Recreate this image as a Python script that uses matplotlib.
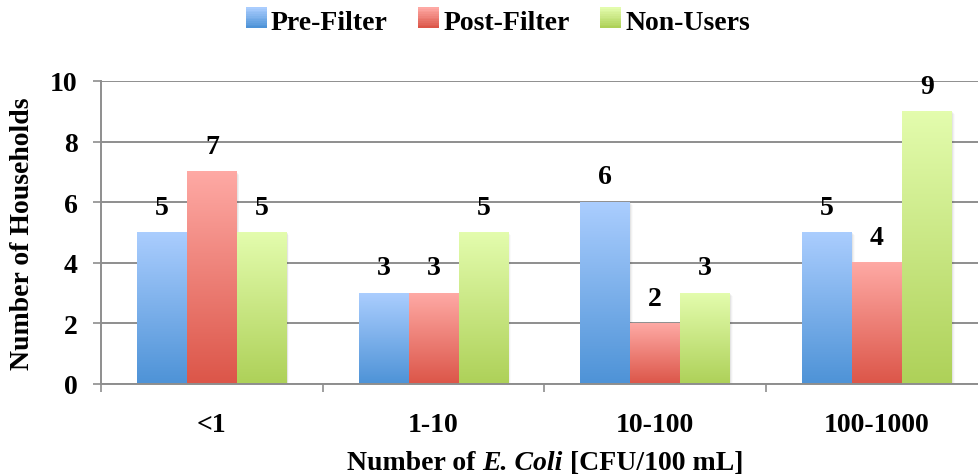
import numpy as np
import matplotlib
matplotlib.use("Agg")
import matplotlib.pyplot as plt
from matplotlib.patches import Rectangle
from matplotlib.legend_handler import HandlerBase
from matplotlib.colors import to_rgb

categories = ["<1", "1-10", "10-100", "100-1000"]
series_names = ["Pre-Filter", "Post-Filter", "Non-Users"]
pre_filter = [5, 3, 6, 5]
post_filter = [7, 3, 2, 4]
non_users = [5, 5, 3, 9]
series_values = [pre_filter, post_filter, non_users]
y_ticks = [0, 2, 4, 6, 8, 10]

top_colors = ["#AACDFE", "#FEA9A4", "#E3FCAD"]
bottom_colors = ["#4E93D7", "#DC5649", "#AED159"]

FONT = "Liberation Serif"
plt.rcParams["font.family"] = [FONT, "DejaVu Serif"]
plt.rcParams["font.weight"] = "bold"
FS = 20

fig = plt.figure(figsize=(9.79, 4.77), dpi=100)
ax = fig.add_axes([101 / 979, 1 - 385 / 477, 1 - 101 / 979, (385 - 82) / 477])

n = len(categories)
x = np.arange(n)
width = 0.225
offsets = [-width, 0, width]


def gradient(top, bottom, N=64):
    t = np.linspace(0, 1, N)[:, None]
    a = np.array(to_rgb(top))
    b = np.array(to_rgb(bottom))
    return (a * (1 - t) + b * t)[:, None, :]


for si, vals in enumerate(series_values):
    grad = gradient(top_colors[si], bottom_colors[si])
    bars = ax.bar(x + offsets[si], vals, width, color="none", edgecolor="none", zorder=3)
    for b, v in zip(bars, vals):
        x0 = b.get_x()
        # soft shadow
        for k, al in enumerate([0.05, 0.035, 0.02]):
            d = 0.004 * (k + 1)
            ax.add_patch(Rectangle((x0 + d, -0.03 * (k + 1)), width, v, facecolor="#000000",
                                   alpha=al, edgecolor="none", zorder=2.5))
        ax.imshow(grad, extent=[x0, x0 + width, 0, v], aspect="auto",
                  origin="upper", zorder=3, interpolation="bilinear")
        ax.text(x0 + width / 2, v + 0.42, str(v), ha="center", va="bottom",
                fontsize=FS, fontweight="bold", zorder=4)

ax.set_xlim(-0.5, 3.46)
ax.set_ylim(0, 10)
ax.set_yticks(y_ticks)
ax.set_yticklabels([str(t) for t in y_ticks], fontsize=FS, fontweight="bold")
ax.yaxis.grid(True, color="#8E8E8E", linewidth=1.4, zorder=1)
ax.set_axisbelow(True)

ax.set_xticks(x)
ax.set_xticklabels(categories, fontsize=FS, fontweight="bold")
ax.tick_params(axis="x", which="major", length=0, pad=20)
ax.set_xticks(np.arange(-0.5, n - 0.5, 1.0), minor=True)
ax.tick_params(axis="x", which="minor", length=6, width=1.2, color="#8E8E8E", direction="out")
ax.tick_params(axis="y", length=6, width=1.2, color="#8E8E8E", pad=11)

for s in ["top", "right"]:
    ax.spines[s].set_visible(False)
for s in ["left", "bottom"]:
    ax.spines[s].set_color("#8E8E8E")
    ax.spines[s].set_linewidth(1.4)
ax.spines["bottom"].set_zorder(5)

ax.set_ylabel("Number of Households", fontsize=FS, fontweight="bold")
ax.yaxis.set_label_coords(-(101 - 35) / 878, 0.5)


class GradHandler(HandlerBase):
    def __init__(self, top, bottom):
        super().__init__()
        self.top = top
        self.bottom = bottom

    def create_artists(self, legend, orig_handle, xdescent, ydescent, width, height, fontsize, trans):
        size = 15
        x0 = -xdescent + width - size
        y0 = -ydescent + (height - size) / 2 + 1
        N = 12
        arts = []
        a = np.array(to_rgb(self.top))
        b = np.array(to_rgb(self.bottom))
        for i in range(N):
            t = i / (N - 1)
            c = b * (1 - t) + a * t
            r = Rectangle((x0, y0 + size * i / N), size, size / N + 0.3,
                          facecolor=c, edgecolor="none", transform=trans)
            arts.append(r)
        return arts


handles = [Rectangle((0, 0), 1, 1) for _ in series_names]
hmap = {h: GradHandler(top_colors[i], bottom_colors[i]) for i, h in enumerate(handles)}
fig.legend(handles, series_names, handler_map=hmap, loc="center",
           bbox_to_anchor=(500 / 979, 1 - 23 / 477), ncol=3, frameon=False,
           prop={"family": FONT, "weight": "bold", "size": FS},
           handlelength=0.6, handletextpad=0.15, columnspacing=1.25)

# x label with bold italic part
parts = [("Number of ", "normal"), ("E. Coli", "italic"), (" [CFU/100 mL]", "normal")]
fig.canvas.draw()
renderer = fig.canvas.get_renderer()
tmp = []
widths = []
for txt, style in parts:
    t = fig.text(0, 0, txt, fontsize=FS, fontweight="bold", fontstyle=style)
    w = t.get_window_extent(renderer).width
    widths.append(w)
    tmp.append(t)
total = sum(widths)
cx = 545
xpos = cx - total / 2
ypix = 477 - 470
for t, w in zip(tmp, widths):
    t.set_position((xpos / 979, ypix / 477))
    t.set_va("baseline")
    xpos += w

fig.savefig("out.png", dpi=100)
